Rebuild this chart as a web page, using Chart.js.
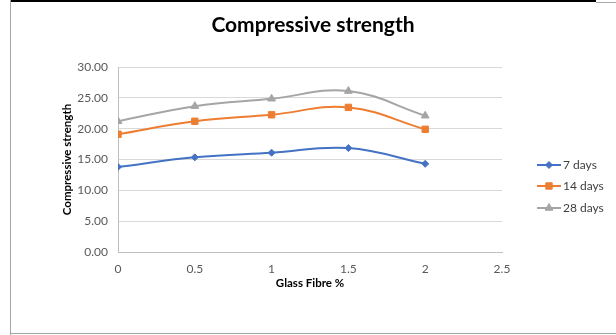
<!DOCTYPE html>
<html>
<head>
<meta charset="utf-8">
<script src="https://cdn.jsdelivr.net/npm/chart.js@4.4.1/dist/chart.umd.min.js"></script>
<style>
  html, body { margin: 0; padding: 0; background: #fff; }
  #wrap { position: relative; width: 616px; height: 335px; overflow: hidden; }
  #chart { position: absolute; left: 0; top: 0; }
  #title {
    position: absolute; left: 10px; width: 606px; top: 11px;
    text-align: center; font: bold 21px Lato, Calibri, sans-serif; color: #000;
  }
  .edge { position: absolute; pointer-events: none; }
</style>
</head>
<body>
<div id="wrap">
  <canvas id="chart" width="616" height="335"></canvas>
  <div id="title">Compressive strength</div>
  <div class="edge" style="left:10px;top:0;width:586px;height:2px;background:#000;"></div>
  <div class="edge" style="left:596px;top:2px;width:20px;height:1px;background:#aaa;"></div>
  <div class="edge" style="left:10px;top:0;width:1px;height:335px;background:#a6a6a6;"></div>
  <div class="edge" style="left:10px;top:333px;width:606px;height:1px;background:#a6a6a6;"></div>
</div>
<script>
const fibre = [0, 0.5, 1, 1.5, 2];
const days7 = [13.8, 15.35, 16.1, 16.85, 14.3];
const days14 = [19.1, 21.2, 22.25, 23.45, 19.9];
const days28 = [21.2, 23.65, 24.85, 26.1, 22.1];
const seriesNames = ["7 days", "14 days", "28 days"];
const yTicks = [0, 5, 10, 15, 20, 25, 30];

const FONT = "Lato, Calibri, Carlito, sans-serif";
const colors = ["#4472C4", "#ED7D31", "#A5A5A5"];
const markers = ["rectRot", "rect", "triangle"];
const radii = [3.5, 4.5, 4.5];

function points(values) {
  return fibre.map((x, i) => ({ x: x, y: values[i] }));
}

const datasets = [days7, days14, days28].map((values, i) => ({
  label: seriesNames[i],
  data: points(values),
  borderColor: colors[i],
  backgroundColor: colors[i],
  borderWidth: 2,
  pointStyle: markers[i],
  pointRadius: radii[i],
  pointBorderWidth: 1,
  tension: 0.4,
  showLine: true,
}));

// legend drawn as line + marker, like the spreadsheet one
const sideLegend = {
  id: "sideLegend",
  afterDraw(chart) {
    const ctx = chart.ctx;
    const x0 = 537, x1 = 561;
    const rows = [165, 186, 208];
    ctx.save();
    chart.data.datasets.forEach((ds, i) => {
      const y = rows[i];
      ctx.strokeStyle = ds.borderColor;
      ctx.lineWidth = 2;
      ctx.beginPath();
      ctx.moveTo(x0, y);
      ctx.lineTo(x1, y);
      ctx.stroke();
      ctx.fillStyle = ds.backgroundColor;
      ctx.strokeStyle = ds.borderColor;
      ctx.lineWidth = 1;
      Chart.helpers.drawPoint(ctx, { pointStyle: ds.pointStyle, radius: ds.pointRadius, borderWidth: 1 }, (x0 + x1) / 2, y);
      ctx.fillStyle = "#404040";
      ctx.font = "12px " + FONT;
      ctx.textBaseline = "middle";
      ctx.textAlign = "left";
      ctx.fillText(ds.label, x1 + 2, y);
    });
    ctx.restore();
  },
};

new Chart(document.getElementById("chart"), {
  type: "scatter",
  data: { datasets: datasets },
  plugins: [sideLegend],
  options: {
    responsive: false,
    animation: false,
    layout: { padding: { left: 56, right: 114, top: 67, bottom: 41 } },
    plugins: {
      legend: { display: false },
      tooltip: { enabled: false },
      title: { display: false },
    },
    scales: {
      x: {
        type: "linear",
        min: 0,
        max: 2.5,
        afterFit(scale) { scale.height = 42; },
        ticks: {
          stepSize: 0.5,
          padding: 10,
          color: "#595959",
          font: { family: FONT, size: 12 },
          callback: (v) => String(v),
        },
        grid: { display: false, drawTicks: false },
        border: { display: true, color: "#bfbfbf", width: 1 },
        title: {
          display: true,
          text: "Glass Fibre %",
          color: "#000",
          font: { family: FONT, size: 11.5, weight: "bold" },
        },
      },
      y: {
        min: 0,
        max: 30,
        afterFit(scale) { scale.width = 62; },
        afterBuildTicks(scale) { scale.ticks = yTicks.map((v) => ({ value: v })); },
        ticks: {
          padding: 10,
          color: "#595959",
          font: { family: FONT, size: 12 },
          callback: (v) => Number(v).toFixed(2),
        },
        grid: { color: "#d9d9d9", drawTicks: false },
        border: { display: true, color: "#bfbfbf", width: 1 },
        title: {
          display: true,
          text: "Compressive strength",
          color: "#000",
          font: { family: FONT, size: 11.5, weight: "bold" },
        },
      },
    },
  },
});
</script>
</body>
</html>
